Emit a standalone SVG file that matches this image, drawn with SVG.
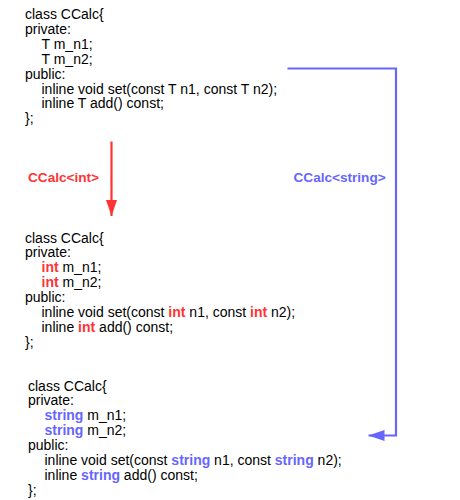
<svg xmlns="http://www.w3.org/2000/svg" width="460" height="500" viewBox="0 0 460 500">
<style>
.code{font-family:"Liberation Sans",Arial,sans-serif;font-size:14px;fill:#000}
.ri{font-weight:bold;fill:#ff3333}
.bs{font-weight:bold;fill:#6666ff}
.lbl{font-family:"Liberation Sans",Arial,sans-serif;font-size:13.6px;font-weight:bold}
</style>
<defs>
<marker id="ar" viewBox="0 0 16 11" refX="16" refY="5.5" markerWidth="16" markerHeight="11" markerUnits="userSpaceOnUse" orient="auto"><path d="M0,0 L16,5.5 L0,11 Z" fill="#ff3333"/></marker>
<marker id="ab" viewBox="0 0 16 11" refX="16" refY="5.5" markerWidth="16" markerHeight="11" markerUnits="userSpaceOnUse" orient="auto"><path d="M0,0 L16,5.5 L0,11 Z" fill="#6666ff"/></marker>
</defs>
<rect width="460" height="500" fill="#fff"/>
<g id="template">
<text class="code" x="25" y="19">class CCalc{</text>
<text class="code" x="25" y="33.9">private:</text>
<text class="code" x="41.5" y="48.8">T m_n1;</text>
<text class="code" x="41.5" y="63.7">T m_n2;</text>
<text class="code" x="25" y="78.6">public:</text>
<text class="code" x="41.5" y="93.5">inline void set(const T n1, const T n2);</text>
<text class="code" x="41.5" y="108.4">inline T add() const;</text>
<text class="code" x="25" y="123.3">};</text>
</g>
<g id="int-class">
<text class="code" x="25" y="242.5">class CCalc{</text>
<text class="code" x="25" y="257.4">private:</text>
<text class="code" x="41.5" y="272.3"><tspan class="ri">int</tspan> m_n1;</text>
<text class="code" x="41.5" y="287.2"><tspan class="ri">int</tspan> m_n2;</text>
<text class="code" x="25" y="302.1">public:</text>
<text class="code" x="41.5" y="317">inline void set(const <tspan class="ri">int</tspan> n1, const <tspan class="ri">int</tspan> n2);</text>
<text class="code" x="41.5" y="331.9">inline <tspan class="ri">int</tspan> add() const;</text>
<text class="code" x="25" y="346.8">};</text>
</g>
<g id="string-class">
<text class="code" x="28" y="390.5">class CCalc{</text>
<text class="code" x="28" y="405.4">private:</text>
<text class="code" x="44.5" y="420.3"><tspan class="bs">string</tspan> m_n1;</text>
<text class="code" x="44.5" y="435.2"><tspan class="bs">string</tspan> m_n2;</text>
<text class="code" x="28" y="450.1">public:</text>
<text class="code" x="44.5" y="465">inline void set(const <tspan class="bs">string</tspan> n1, const <tspan class="bs">string</tspan> n2);</text>
<text class="code" x="44.5" y="479.9">inline <tspan class="bs">string</tspan> add() const;</text>
<text class="code" x="28" y="494.8">};</text>
</g>
<g id="label-int">
<text class="lbl" x="28" y="181.5" fill="#ff3333">CCalc&lt;int&gt;</text>
</g>
<g id="label-string">
<text class="lbl" x="293.5" y="181.5" fill="#6666ff">CCalc&lt;string&gt;</text>
</g>
<g id="connectors" fill="none" stroke-width="2.2">
<path d="M111.5,141.5 V216" stroke="#ff3333" marker-end="url(#ar)"/>
<path d="M287.5,68.5 H396 V435.5 H368.5" stroke="#6666ff" stroke-linejoin="miter" marker-end="url(#ab)"/>
</g>
</svg>
